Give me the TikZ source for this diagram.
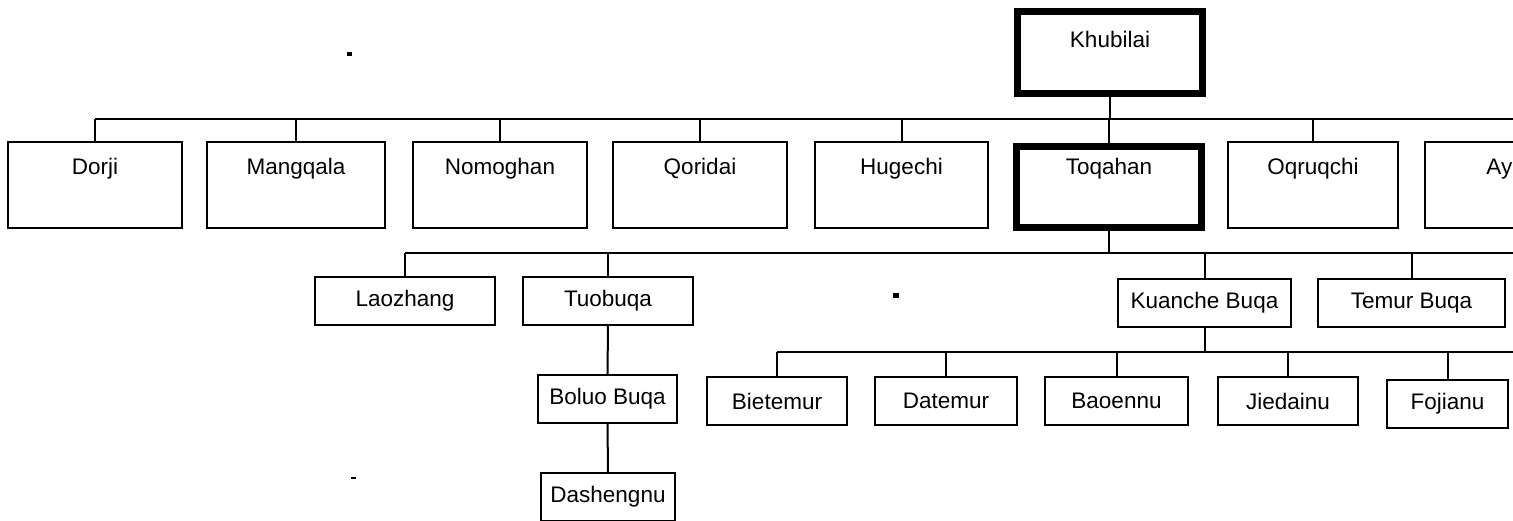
\documentclass[tikz,border=0pt]{standalone}
\usepackage{fontspec}
\setmainfont{Liberation Sans}
\begin{document}
\begin{tikzpicture}[x=1pt,y=-1pt,
  every node/.style={font=\fontsize{22.5}{24}\selectfont},
  box/.style={draw, line width=2pt, inner sep=0pt, outer sep=0pt},
  bigbox/.style={box, minimum height=86pt, text height=32.5pt, text depth=53.5pt},
  heavy/.style={box, line width=7pt},
  smallbox/.style={box, minimum height=48pt},
  wire/.style={line width=2pt}]
\useasboundingbox (0,0) rectangle (1513,520);
\clip (0,0) rectangle (1513,520);

% root
\node[heavy, minimum width=185pt, minimum height=82pt, text height=36pt, text depth=46pt]
  (khubilai) at (1110,52.5) {Khubilai};

% sons
\node[bigbox, minimum width=174pt] (dorji)    at (95,185)   {Dorji};
\node[bigbox, minimum width=178pt] (mangqala) at (296,185)  {Mangqala};
\node[bigbox, minimum width=174pt] (nomoghan) at (500,185)  {Nomoghan};
\node[bigbox, minimum width=174pt] (qoridai)  at (700,185)  {Qoridai};
\node[bigbox, minimum width=173pt] (hugechi)  at (901.5,185) {Hugechi};
\node[heavy, minimum width=185pt, minimum height=81pt, text height=28pt, text depth=53pt]
  (toqahan) at (1109,187) {Toqahan};
\node[bigbox, minimum width=170pt] (oqruqchi) at (1313,185) {Oqruqchi};
\node[bigbox, minimum width=190pt] (ayachi)   at (1520,185) {Ayachi};

% grandsons
\node[smallbox, minimum width=180pt] (laozhang) at (405,301)    {Laozhang};
\node[smallbox, minimum width=170pt] (tuobuqa)  at (608,301)    {Tuobuqa};
\node[smallbox, minimum width=173pt] (kuanche)  at (1204.5,303) {Kuanche Buqa};
\node[smallbox, minimum width=187pt] (temur)    at (1411.5,303) {Temur Buqa};

\node[smallbox, minimum width=139pt] (boluo)     at (607.5,399) {Boluo Buqa};
\node[smallbox, minimum width=134pt] (dashengnu) at (608,497)   {Dashengnu};

\node[smallbox, minimum width=140pt] (bietemur) at (777,401)    {Bietemur};
\node[smallbox, minimum width=142pt] (datemur)  at (946,401)    {Datemur};
\node[smallbox, minimum width=143pt] (baoennu)  at (1116.5,401) {Baoennu};
\node[smallbox, minimum width=140pt] (jiedainu) at (1288,401)   {Jiedainu};
\node[smallbox, minimum width=121pt] (fojianu)  at (1447.5,404) {Fojianu};

% bus lines running off to the right
\coordinate (busA) at (1525,119);
\coordinate (busB) at (1525,253);
\coordinate (busC) at (1525,352);

\draw[wire] (dorji.north |- busA) -- (busA);
\draw[wire] (khubilai.south) -- (khubilai.south |- busA);
\foreach \n in {dorji,mangqala,nomoghan,qoridai,hugechi,toqahan,oqruqchi}
  \draw[wire] (\n.north) -- (\n.north |- busA);

\draw[wire] (laozhang.north |- busB) -- (busB);
\draw[wire] (toqahan.south) -- (toqahan.south |- busB);
\foreach \n in {laozhang,tuobuqa,kuanche,temur}
  \draw[wire] (\n.north) -- (\n.north |- busB);

\draw[wire] (tuobuqa.south) -- (boluo.north);
\draw[wire] (boluo.south) -- (dashengnu.north);

\draw[wire] (bietemur.north |- busC) -- (busC);
\draw[wire] (kuanche.south) -- (kuanche.south |- busC);
\foreach \n in {bietemur,datemur,baoennu,jiedainu,fojianu}
  \draw[wire] (\n.north) -- (\n.north |- busC);

% specks
\fill (347,52) rectangle (352,56);
\fill (893,293) rectangle (899,298);
\fill (351,477) rectangle (356,479);
\end{tikzpicture}
\end{document}
